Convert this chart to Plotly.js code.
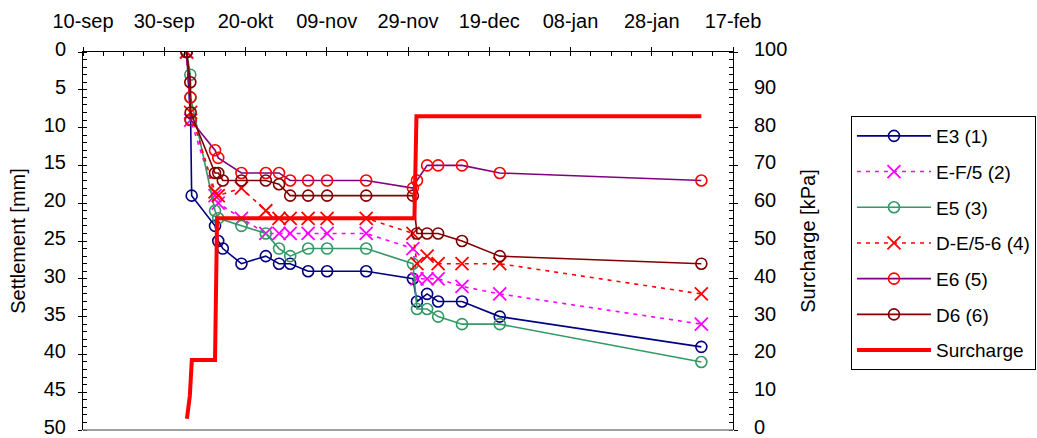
<!DOCTYPE html>
<html>
<head>
<meta charset="utf-8">
<script src="https://cdn.plot.ly/plotly-3.0.1.min.js"></script>
<style>html,body{margin:0;padding:0;background:#fff;}#chart{width:1037px;height:438px;}</style>
</head>
<body>
<div id="chart"></div>
<script>
// ---- data ----
var tickDates = ["2001-09-10","2001-09-30","2001-10-20","2001-11-09","2001-11-29","2001-12-19","2002-01-08","2002-01-28","2002-02-17"];
var tickLabels = ["10-sep","30-sep","20-okt","09-nov","29-nov","19-dec","08-jan","28-jan","17-feb"];

var e3Dates = ["2001-10-05 12:00","2001-10-06 12:00","2001-10-06 18:00","2001-10-12 12:00","2001-10-13 07:00","2001-10-14 10:00","2001-10-19 00:00","2001-10-25 00:00","2001-10-28 06:00","2001-10-31 00:00","2001-11-04 10:00","2001-11-09 02:00","2001-11-18 17:00","2001-11-30 05:00","2001-12-01 05:00","2001-12-03 17:00","2001-12-06 10:00","2001-12-12 07:00","2001-12-21 14:00","2002-02-09 05:00"];
var e3Settlement = [0, 9, 19, 23, 25, 26, 28, 27, 28, 28, 29, 29, 29, 30, 33, 32, 33, 33, 35, 39];

var ef5Dates = ["2001-10-05 12:00","2001-10-06 12:00","2001-10-12 12:00","2001-10-13 07:00","2001-10-19 00:00","2001-10-25 00:00","2001-10-28 06:00","2001-10-31 00:00","2001-11-04 10:00","2001-11-09 02:00","2001-11-18 17:00","2001-11-30 05:00","2001-12-01 05:00","2001-12-03 17:00","2001-12-06 10:00","2001-12-12 07:00","2001-12-21 14:00","2002-02-09 05:00"];
var ef5Settlement = [0, 9, 19, 20, 22, 24, 24, 24, 24, 24, 24, 26, 30, 30, 30, 31, 32, 36];

var e5Dates = ["2001-10-05 12:00","2001-10-06 10:00","2001-10-06 12:00","2001-10-12 12:00","2001-10-13 07:00","2001-10-19 00:00","2001-10-25 00:00","2001-10-28 06:00","2001-10-31 00:00","2001-11-04 10:00","2001-11-09 02:00","2001-11-18 17:00","2001-11-30 05:00","2001-12-01 05:00","2001-12-03 17:00","2001-12-06 10:00","2001-12-12 07:00","2001-12-21 14:00","2002-02-09 05:00"];
var e5Settlement = [0, 3, 6, 21, 22, 23, 24, 26, 27, 26, 26, 26, 28, 34, 34, 35, 36, 36, 41];

var de56Dates = ["2001-10-05 12:00","2001-10-06 12:00","2001-10-12 12:00","2001-10-13 07:00","2001-10-19 00:00","2001-10-25 00:00","2001-10-28 06:00","2001-10-31 00:00","2001-11-04 10:00","2001-11-09 02:00","2001-11-18 17:00","2001-11-30 05:00","2001-12-01 05:00","2001-12-03 17:00","2001-12-06 10:00","2001-12-12 07:00","2001-12-21 14:00","2002-02-09 05:00"];
var de56Settlement = [0, 8, 18.5, 19, 18, 21, 22, 22, 22, 22, 22, 24, 28, 27, 28, 28, 28, 32];

var e6Dates = ["2001-10-05 12:00","2001-10-06 10:00","2001-10-06 12:00","2001-10-12 12:00","2001-10-13 07:00","2001-10-19 00:00","2001-10-25 00:00","2001-10-28 06:00","2001-10-31 00:00","2001-11-04 10:00","2001-11-09 02:00","2001-11-18 17:00","2001-11-30 05:00","2001-12-01 05:00","2001-12-03 17:00","2001-12-06 10:00","2001-12-12 07:00","2001-12-21 14:00","2002-02-09 05:00"];
var e6Settlement = [0, 6, 9, 13, 14, 16, 16, 16, 17, 17, 17, 17, 18, 17, 15, 15, 15, 16, 17];

var d6Dates = ["2001-10-05 12:00","2001-10-06 10:00","2001-10-06 12:00","2001-10-12 12:00","2001-10-13 07:00","2001-10-14 10:00","2001-10-19 00:00","2001-10-25 00:00","2001-10-28 06:00","2001-10-31 00:00","2001-11-04 10:00","2001-11-09 02:00","2001-11-18 17:00","2001-11-30 05:00","2001-12-01 05:00","2001-12-03 17:00","2001-12-06 10:00","2001-12-12 07:00","2001-12-21 14:00","2002-02-09 05:00"];
var d6Settlement = [0, 4, 8, 16, 16, 17, 17, 17, 17.5, 19, 19, 19, 19, 19, 24, 24, 24, 25, 27, 28];

var surchargeDates = ["2001-10-05 14:00","2001-10-06 07:00","2001-10-06 19:00","2001-10-12 12:00","2001-10-13 00:00","2001-11-30 14:00","2001-12-01 02:00","2002-02-09 05:00"];
var surchargeKPa = [3, 9, 18.5, 18.5, 56, 56, 83, 83];

// ---- chart ----
var FONT = "Liberation Sans, Arial, sans-serif";
var FS = 20;
function series(name, xs, ys, lineColor, markerColor, symbol, dash, grp) {
  var isX = symbol.indexOf('x') === 0;
  return {
    type: 'scatter', mode: 'lines+markers', name: name, x: xs, y: ys,
    xaxis: 'x', yaxis: 'y', legendgroup: grp,
    line: {color: lineColor, width: 1.6, dash: dash},
    marker: {symbol: symbol, size: isX ? 13 : 11, color: markerColor,
             line: {color: markerColor, width: isX ? 1.8 : 1.6}}
  };
}
var traces = [
  series('E3 (1)', e3Dates, e3Settlement, '#000080', '#000080', 'circle-open', 'solid', 'g1'),
  series('E-F/5 (2)', ef5Dates, ef5Settlement, '#FF00FF', '#FF00FF', 'x-thin-open', '4px,5px', 'g2'),
  series('E5 (3)', e5Dates, e5Settlement, '#339966', '#339966', 'circle-open', 'solid', 'g3'),
  series('D-E/5-6 (4)', de56Dates, de56Settlement, '#FF0000', '#FF0000', 'x-thin-open', '4px,5px', 'g4'),
  series('E6 (5)', e6Dates, e6Settlement, '#800080', '#FF0000', 'circle-open', 'solid', 'g5'),
  series('D6 (6)', d6Dates, d6Settlement, '#800000', '#800000', 'circle-open', 'solid', 'g6'),
  {type: 'scatter', mode: 'lines', name: 'Surcharge', x: surchargeDates, y: surchargeKPa,
   xaxis: 'x', yaxis: 'y2', legendgroup: 'g7', line: {color: '#FF0000', width: 4}}
];

var xRange = [tickDates[0], tickDates[tickDates.length - 1]];
var tickFont = {family: FONT, size: FS, color: '#000'};
var layout = {
  width: 1037, height: 438,
  margin: {l: 83, r: 304, t: 52, b: 8, pad: 0, autoexpand: false},
  paper_bgcolor: '#fff', plot_bgcolor: '#fff',
  font: {family: FONT, size: FS, color: '#000'},
  showlegend: true,
  xaxis: {
    type: 'date', side: 'top', range: xRange, tickmode: 'array',
    tickvals: tickDates, ticktext: tickLabels, tickfont: tickFont,
    showgrid: false, zeroline: false, showline: true, linecolor: '#000', linewidth: 1,
    ticks: 'outside', ticklen: 4, tickcolor: '#000', tickwidth: 1, ticklabelstandoff: 11,
    ticklabeloverflow: 'allow', automargin: false,
    minor: {dtick: 5 * 86400000, tick0: tickDates[0], ticks: 'inside', ticklen: 4, tickcolor: '#000', showgrid: false},
    fixedrange: true
  },
  xaxis2: {
    type: 'date', overlaying: 'x', side: 'top', anchor: 'y', range: xRange, tickmode: 'array',
    tickvals: tickDates, showticklabels: false, showgrid: false, zeroline: false, showline: false,
    ticks: 'inside', ticklen: 4, tickcolor: '#000'
  },
  yaxis: {
    range: [50, 0], dtick: 5, tick0: 0, tickfont: tickFont,
    title: {text: 'Settlement [mm]', font: {family: FONT, size: FS, color: '#000'}, standoff: 12},
    showgrid: false, zeroline: false, showline: true, linecolor: '#000', linewidth: 1,
    ticks: 'outside', ticklen: 4, tickcolor: '#000', ticklabelstandoff: 8,
    ticklabeloverflow: 'allow', ticklabelshift: 3, automargin: false,
    minor: {dtick: 1, ticks: 'inside', ticklen: 4, tickcolor: '#000', showgrid: false}
  },
  yaxis2: {
    overlaying: 'y', side: 'right', anchor: 'x', range: [0, 100], dtick: 10, tick0: 0, tickfont: tickFont,
    title: {text: 'Surcharge [kPa]', font: {family: FONT, size: FS, color: '#000'}, standoff: 14},
    showgrid: false, zeroline: false, showline: true, linecolor: '#000', linewidth: 1,
    ticks: 'outside', ticklen: 4, tickcolor: '#000', ticklabelstandoff: 12,
    ticklabeloverflow: 'allow', ticklabelshift: -3, automargin: false,
    minor: {dtick: 2, ticks: 'inside', ticklen: 4, tickcolor: '#000', showgrid: false}
  },
  yaxis3: {
    overlaying: 'y', side: 'left', anchor: 'x', range: [50, 0], dtick: 5, showticklabels: false,
    showgrid: false, zeroline: false, showline: false, ticks: 'inside', ticklen: 4, tickcolor: '#000'
  },
  yaxis4: {
    overlaying: 'y', side: 'right', anchor: 'x', range: [0, 100], dtick: 10, showticklabels: false,
    showgrid: false, zeroline: false, showline: false, ticks: 'inside', ticklen: 4, tickcolor: '#000'
  },
  shapes: [
    {type: 'line', xref: 'paper', yref: 'paper', x0: 0, x1: 1, y0: 0, y1: 0, line: {color: '#808080', width: 1.5}}
  ],
  legend: {
    x: 1.1815, y: 0.8307, xanchor: 'left', yanchor: 'top',
    bordercolor: '#000', borderwidth: 1, bgcolor: '#fff',
    font: {family: FONT, size: 19, color: '#000'},
    tracegroupgap: 8, itemwidth: 74, traceorder: 'grouped'
  }
};

Plotly.newPlot('chart', traces, layout, {staticPlot: true, displayModeBar: false});
</script>
</body>
</html>
